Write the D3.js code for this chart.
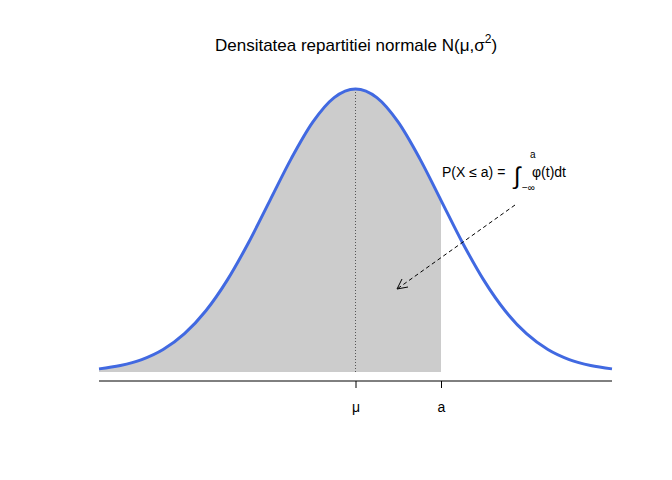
<!DOCTYPE html>
<html><head><meta charset="utf-8">
<script src="https://cdn.jsdelivr.net/npm/d3@7"></script>
<style>body{margin:0;background:#fff}svg{font-family:Arial,"Liberation Sans",sans-serif}</style>
</head><body><svg width="672" height="480"></svg>
<script>
const xs = [-3,-2.75,-2.5,-2.25,-2,-1.75,-1.5,-1.25,-1,-0.75,-0.5,-0.25,0,0.25,0.5,0.75,1,1.25,1.5,1.75,2,2.25,2.5,2.75,3];
const dens = [0.0044,0.0091,0.0175,0.0317,0.0540,0.0863,0.1295,0.1826,0.2420,0.3011,0.3521,0.3867,0.3989,0.3867,0.3521,0.3011,0.2420,0.1826,0.1295,0.0863,0.0540,0.0317,0.0175,0.0091,0.0044];
const aValue = 1;
const tickValues = [0, 1];
const tickLabels = ["μ", "a"];

const svg = d3.select("svg");
const x = d3.scaleLinear().domain([-3,3]).range([99,612]);
const y = d3.scaleLinear().domain([0,0.3989]).range([372,89]);
const pts = xs.map((v,i)=>({x:v,y:dens[i]}));

const area = d3.area().x(d=>x(d.x)).y0(y(0)).y1(d=>y(d.y)).curve(d3.curveMonotoneX);
svg.append("path").datum(pts.filter(d=>d.x<=aValue)).attr("d",area).attr("fill","#cccccc");

svg.append("line").attr("x1",x(0)).attr("x2",x(0)).attr("y1",y(0)).attr("y2",y(0.3989))
  .attr("stroke","#555").attr("stroke-dasharray","1,2");

const line = d3.line().x(d=>x(d.x)).y(d=>y(d.y)).curve(d3.curveMonotoneX);
svg.append("path").datum(pts).attr("d",line).attr("fill","none").attr("stroke","#4169E1").attr("stroke-width",3);

const ax = svg.append("g").attr("transform","translate(0,381)")
  .call(d3.axisBottom(x).tickValues(tickValues).tickFormat((d,i)=>tickLabels[i]).tickSizeOuter(0).tickSize(7));
ax.select(".domain").attr("d","M99,0H612").attr("stroke","#000");
ax.selectAll("text").attr("font-size",14).attr("dy","1.5em").attr("font-family","Arial,'Liberation Sans',sans-serif");

const t = svg.append("text").attr("x",356).attr("y",51).attr("text-anchor","middle").attr("font-size",17);
t.append("tspan").text("Densitatea repartitiei normale N(μ,σ");
t.append("tspan").attr("dy",-8).attr("font-size",12).text("2");
t.append("tspan").attr("dy",8).text(")");

svg.append("text").attr("x",442).attr("y",177).attr("font-size",14).text("P(X ≤ a) =");
svg.append("text").attr("x",514).attr("y",184).attr("font-size",24).text("∫");
svg.append("text").attr("x",530).attr("y",158).attr("font-size",10).text("a");
svg.append("text").attr("x",522).attr("y",191).attr("font-size",10).text("−∞");
svg.append("text").attr("x",532).attr("y",177).attr("font-size",14).text("φ(t)dt");

svg.append("line").attr("x1",515).attr("y1",205).attr("x2",397).attr("y2",289)
  .attr("stroke","#000").attr("stroke-dasharray","4,3");
svg.append("path").attr("d","M397,289 l11,-2 M397,289 l5,-10").attr("stroke","#000").attr("fill","none");
</script></body></html>
